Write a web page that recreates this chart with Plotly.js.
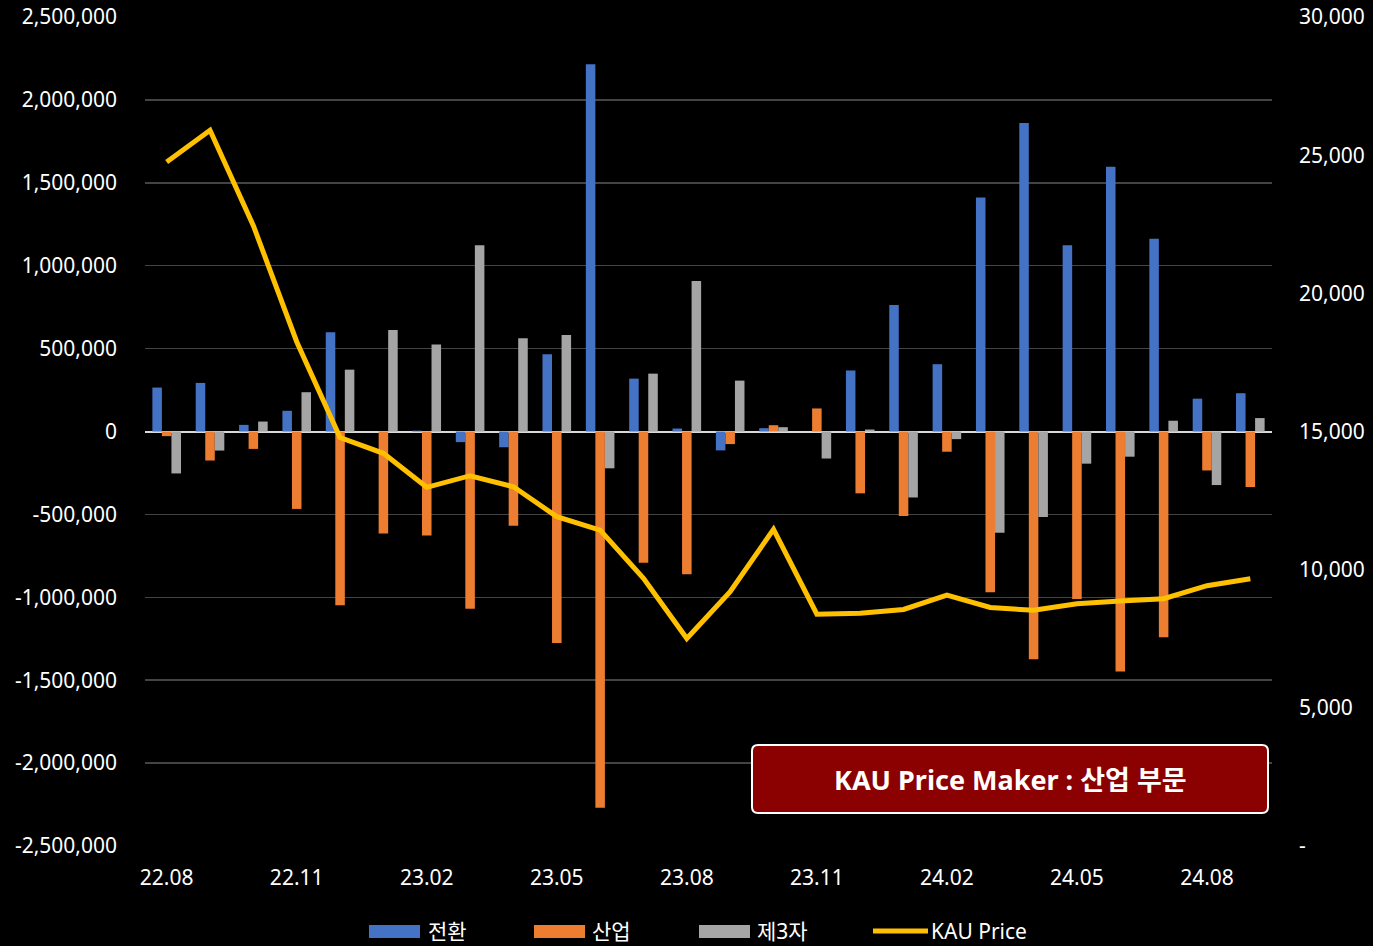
<!DOCTYPE html>
<html>
<head>
<meta charset="utf-8">
<script src="https://cdn.plot.ly/plotly-3.0.1.min.js"></script>
<style>
html,body{margin:0;padding:0;background:#000;}
#chart{width:1373px;height:946px;}
</style>
</head>
<body>
<div id="chart"></div>
<script>
// ---- data ----
const months = ['22.08','22.09','22.10','22.11','22.12','23.01','23.02','23.03','23.04','23.05','23.06','23.07','23.08','23.09','23.10','23.11','23.12','24.01','24.02','24.03','24.04','24.05','24.06','24.07','24.08','24.09'];
const xTickLabels = ['22.08','22.11','23.02','23.05','23.08','23.11','24.02','24.05','24.08'];
const seriesNames = ['전환','산업','제3자','KAU Price'];
const conversion = [265000,293000,40000,125000,599000,0,5000,-64000,-95000,466000,2215000,319000,18000,-114000,20000,0,368000,763000,406000,1412000,1860000,1124000,1597000,1163000,198000,231000];
const industry = [-28000,-175000,-105000,-467000,-1048000,-615000,-627000,-1069000,-569000,-1276000,-2270000,-791000,-861000,-76000,38000,139000,-373000,-510000,-122000,-969000,-1373000,-1011000,-1447000,-1241000,-235000,-335000];
const thirdParty = [-253000,-115000,60000,237000,373000,612000,524000,1123000,563000,582000,-222000,349000,907000,307000,26000,-163000,12000,-398000,-46000,-611000,-515000,-194000,-152000,65000,-323000,81000];
const kauPrice = [24750,25900,22450,18250,14780,14210,12980,13400,13000,11920,11430,9690,7510,9200,11460,8390,8420,8560,9080,8630,8530,8770,8870,8950,9420,9670];
const leftTickVals = [2500000,2000000,1500000,1000000,500000,0,-500000,-1000000,-1500000,-2000000,-2500000];
const leftTickText = ['2,500,000','2,000,000','1,500,000','1,000,000','500,000','0','-500,000','-1,000,000','-1,500,000','-2,000,000','-2,500,000'];
const rightTickVals = [0,5000,10000,15000,20000,25000,30000];
const rightTickText = ['-','5,000','10,000','15,000','20,000','25,000','30,000'];
const boxText = 'KAU Price Maker : 산업 부문';

const colors = ['#4472C4','#ED7D31','#A5A5A5','#FFC000'];
const FONT = '"Noto Sans", "Noto Sans CJK KR", sans-serif';

const traces = [
  {type:'bar', name:seriesNames[0], x:months, y:conversion, marker:{color:colors[0]}, showlegend:false, hoverinfo:'x+y'},
  {type:'bar', name:seriesNames[1], x:months, y:industry, marker:{color:colors[1]}, showlegend:false, hoverinfo:'x+y'},
  {type:'bar', name:seriesNames[2], x:months, y:thirdParty, marker:{color:colors[2]}, showlegend:false, hoverinfo:'x+y'},
  {type:'scatter', mode:'lines', name:seriesNames[3], x:months, y:kauPrice, yaxis:'y2', line:{color:colors[3], width:5}, showlegend:false}
];

// custom legend (paper coords) and title box
const W = 1127, H = 829, L = 145, T = 17;
const px = v => (v - L) / W;
const py = v => (T + H - v) / H;

const shapes = [];
const annotations = [];
const legendItems = [
  {kind:'rect', x0:369, x1:420, text:seriesNames[0], tx:426, color:colors[0]},
  {kind:'rect', x0:534, x1:585, text:seriesNames[1], tx:590, color:colors[1]},
  {kind:'rect', x0:699, x1:750, text:seriesNames[2], tx:755, color:colors[2]},
  {kind:'line', x0:873, x1:928, text:seriesNames[3], tx:929, color:colors[3]}
];
legendItems.forEach(it => {
  if (it.kind === 'rect') {
    shapes.push({type:'rect', xref:'paper', yref:'paper', x0:px(it.x0), x1:px(it.x1), y0:py(938), y1:py(925), fillcolor:it.color, line:{width:0}});
  } else {
    shapes.push({type:'line', xref:'paper', yref:'paper', x0:px(it.x0), x1:px(it.x1), y0:py(931), y1:py(931), line:{color:it.color, width:5}});
  }
  annotations.push({xref:'paper', yref:'paper', x:px(it.tx), y:py(931), xanchor:'left', yanchor:'middle', showarrow:false, text:it.text, font:{family:FONT, size:21, color:'#ffffff'}});
});

// rounded box
const bx0 = px(752), bx1 = px(1268), by0 = py(813), by1 = py(745);
const rx = 6 / W, ry = 6 / H;
const boxPath = `M ${bx0+rx},${by0} L ${bx1-rx},${by0} Q ${bx1},${by0} ${bx1},${by0+ry} L ${bx1},${by1-ry} Q ${bx1},${by1} ${bx1-rx},${by1} L ${bx0+rx},${by1} Q ${bx0},${by1} ${bx0},${by1-ry} L ${bx0},${by0+ry} Q ${bx0},${by0} ${bx0+rx},${by0} Z`;
shapes.push({type:'path', xref:'paper', yref:'paper', path:boxPath, fillcolor:'#8B0000', line:{color:'#ffffff', width:2}, layer:'above'});
annotations.push({xref:'paper', yref:'paper', x:px(1010), y:py(779), xanchor:'center', yanchor:'middle', showarrow:false, text:'<b>'+boxText+'</b>', font:{family:FONT, size:27, color:'#ffffff'}});

const layout = {
  width:1373, height:946,
  paper_bgcolor:'#000000', plot_bgcolor:'#000000',
  margin:{l:145, r:101, t:17, b:100, pad:0},
  barmode:'group', bargap:0.34, bargroupgap:0,
  font:{family:FONT, size:21, color:'#ffffff'},
  showlegend:false,
  xaxis:{type:'category', categoryorder:'array', categoryarray:months, range:[-0.5, months.length-0.5],
         tickmode:'array', tickvals:xTickLabels, ticktext:xTickLabels, showgrid:false, zeroline:false,
         showline:false, ticks:'', ticklabelstandoff:17, tickfont:{family:FONT, size:21, color:'#ffffff'}},
  yaxis:{range:[-2500000,2500000], tickmode:'array', tickvals:leftTickVals, ticktext:leftTickText,
         showgrid:true, gridcolor:'#444444', gridwidth:1.5, zeroline:true, zerolinecolor:'#d9d9d9', zerolinewidth:2,
         showline:false, ticks:'', ticklabelstandoff:27, tickfont:{family:FONT, size:21, color:'#ffffff'}},
  yaxis2:{overlaying:'y', side:'right', range:[0,30000], tickmode:'array', tickvals:rightTickVals, ticktext:rightTickText,
          showgrid:false, zeroline:false, showline:false, ticks:'', ticklabelstandoff:26, tickfont:{family:FONT, size:21, color:'#ffffff'}},
  shapes:shapes,
  annotations:annotations
};

Plotly.newPlot('chart', traces, layout, {displayModeBar:false, staticPlot:true});
</script>
</body>
</html>
